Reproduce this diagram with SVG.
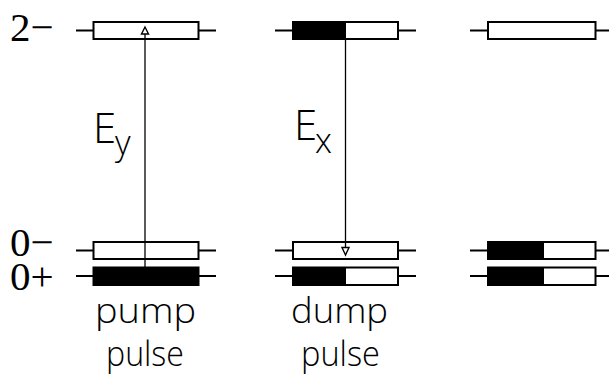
<svg xmlns="http://www.w3.org/2000/svg" width="609" height="379" viewBox="0 0 609 379">
<style>
.lvl{stroke:#000;stroke-width:2;fill:none}
.box{stroke:#000;stroke-width:2;fill:#fff}
.blk{fill:#000}
.ser{font-family:"Liberation Serif","Times New Roman",serif;font-size:41px;fill:#000}
.san{font-family:"Open Sans","Liberation Sans",Arial,sans-serif;font-weight:300;fill:#000}
.arr{stroke:#000;stroke-width:1.3;fill:none}
.head{stroke:#000;stroke-width:1.4;fill:#fff}
</style>
<g id="labels">
<text class="ser" x="10" y="40.5">2−</text>
<text class="ser" x="10" y="255.5">0−<tspan x="10" y="289.5">0+</tspan></text>
</g>
<g id="pump-col">
<path class="lvl" d="M76 30.5H93M199 30.5H216M76 250.5H93M199 250.5H216M76 276H93M199 276H216"/>
<rect class="box" x="93.5" y="22" width="105" height="17"/>
<rect class="box" x="93.5" y="242" width="105" height="17"/>
<rect class="box" x="93.5" y="267.5" width="105" height="17.5" style="fill:#000"/>
</g>
<g id="dump-col">
<path class="lvl" d="M275 30.5H292M398 30.5H416M275 250.5H292M398 250.5H416M275 276H292M398 276H416"/>
<rect class="box" x="293" y="22" width="105" height="17"/>
<rect class="blk" x="293" y="22" width="53" height="17"/>
<rect class="box" x="293" y="242" width="105" height="17"/>
<rect class="box" x="293" y="267.5" width="105" height="17.5"/>
<rect class="blk" x="293" y="267.5" width="53" height="17.5"/>
</g>
<g id="third-col">
<path class="lvl" d="M470 30.5H487M596 30.5H609M470 250.5H487M596 250.5H609M470 276H487M596 276H609"/>
<rect class="box" x="488" y="22" width="107.5" height="17"/>
<rect class="box" x="488" y="242" width="107.5" height="17"/>
<rect class="blk" x="488" y="242" width="56" height="17"/>
<rect class="box" x="488" y="267.5" width="107.5" height="17.5"/>
<rect class="blk" x="488" y="267.5" width="56" height="17.5"/>
</g>
<g id="connectors">
<path class="arr" d="M145 268V34"/>
<polygon class="head" points="145,27 141.5,34 148.5,34"/>
<path class="arr" d="M345.5 39V247.5"/>
<polygon class="head" points="345.5,255 342,247.5 349,247.5"/>
</g>
<g id="field-labels">
<text class="san" x="93" y="143" font-size="42">E<tspan x="115" y="155" font-size="34">y</tspan></text>
<text class="san" x="294" y="140" font-size="42">E<tspan x="315" y="152.5" font-size="34">x</tspan></text>
</g>
<g id="pulse-labels">
<text class="san" x="95" y="323" font-size="34" textLength="101" lengthAdjust="spacingAndGlyphs">pump</text>
<text class="san" x="106" y="366" font-size="34" textLength="78" lengthAdjust="spacingAndGlyphs">pulse</text>
<text class="san" x="291" y="323" font-size="34" textLength="97" lengthAdjust="spacingAndGlyphs">dump</text>
<text class="san" x="301" y="366" font-size="34" textLength="79" lengthAdjust="spacingAndGlyphs">pulse</text>
</g>
</svg>
